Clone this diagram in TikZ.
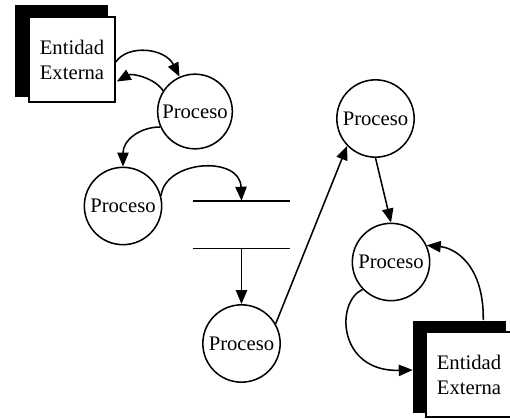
\documentclass[tikz,border=0pt]{standalone}
\usepackage{fontspec}
\setmainfont{Liberation Serif}
\usetikzlibrary{arrows.meta,calc}
\begin{document}
\begin{tikzpicture}[x=0.75pt,y=-0.75pt,
  every node/.style={font=\fontsize{15.5pt}{18.75pt}\selectfont},
  flow/.style={line width=1.15pt,-{Triangle[length=10.5pt,width=8.5pt]}},
  proc/.style={circle,draw,line width=1.15pt,fill=white,minimum size=58pt,inner sep=0pt},
  entbox/.style={rectangle,draw,line width=1.15pt,fill=white,minimum width=64.5pt,
    minimum height=63.75pt,align=center,inner sep=0pt},
  entshadow/.style={rectangle,fill=black,inner sep=0pt,minimum width=69.75pt,minimum height=69pt},
  storeline/.style={line width=1.15pt}]
\useasboundingbox (0,0) rectangle (510,418);

% external entities with their shadows
\node[entshadow] (ent1s) at (61.5,51) {};
\node[entbox] (ent1) at (72,59.5) {Entidad\\Externa};
\node[entshadow] (ent2s) at (459.5,366.5) {};
\node[entbox] (ent2) at (469,374.5) {Entidad\\Externa};

% processes
\node[proc,minimum size=56pt] (c1) at (195,111.5) {Proceso};
\node[proc] (c2) at (123,206) {Proceso};
\node[proc] (c3) at (375.5,118.5) {Proceso};
\node[proc] (c4) at (391,262) {Proceso};
\node[proc] (c5) at (241.5,343.5) {Proceso};

% data store
\node[minimum width=72.75pt,minimum height=35.25pt,inner sep=0pt] (store) at (241.5,224.5) {};
\draw[storeline] (store.north west) -- (store.north east);
\draw[storeline] (store.south west) -- (store.south east);

% flows
\draw[flow] ($(ent1.east)+(0,2.5)$) .. controls (128,44) and (165,48) .. (c1.114);
\draw[flow] (c1.147) .. controls (155,78) and (132,73) .. ($(ent1.east)+(1,22)$);
\draw[flow] (c1.204) .. controls (140,127) and (123,140) .. (c2.north);
\draw[flow] (c2.15) .. controls (165,160) and (240,155) .. (store.north);
\draw[flow] (store.south) -- (c5.north);
\draw[flow] (c5.30) -- (c3.224);
\draw[flow] (c3.south) -- (c4.north);
\draw[flow] (c4.224) .. controls (335,302) and (338,372) .. ($(ent2s.west)+(0,3.5)$);
\draw[flow] ($(ent2s.north east)+(-23,0)$) .. controls (484,265) and (455,248) .. (c4.25);
\end{tikzpicture}
\end{document}
